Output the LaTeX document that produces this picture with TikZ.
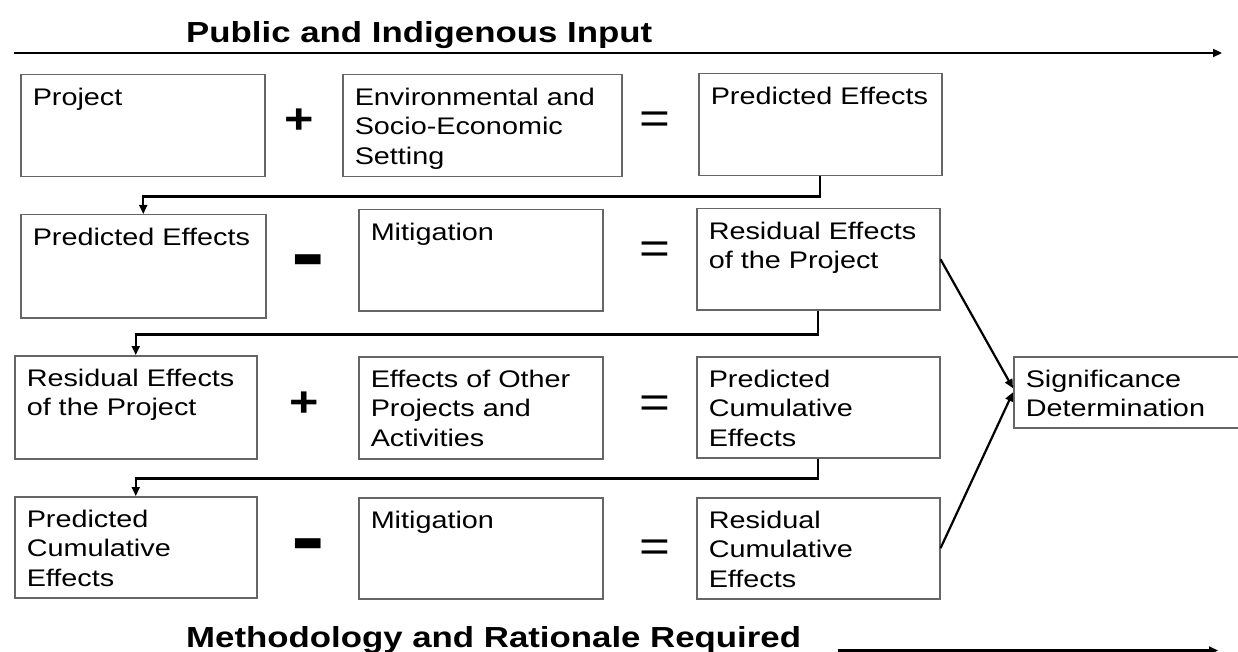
\documentclass[tikz,border=0pt]{standalone}
\usepackage{fontspec}
\setmainfont{Liberation Sans}[FakeStretch=1.2]
\usetikzlibrary{arrows.meta}
\newcommand{\bt}[3]{\parbox[c][#2][t]{\dimexpr#1-24pt\relax}{\fontsize{24}{29.5}\selectfont\raggedright\vspace*{13pt}#3}}
\tikzset{
  box/.style={draw=black!60, line width=1.5pt, inner xsep=12pt, inner ysep=0pt, anchor=north west},
  conn/.style={line width=2.2pt, -{Triangle[length=9pt,width=8pt]}},
  opplus/.style={anchor=base, inner sep=0pt, font=\bfseries\fontsize{42}{42}\selectfont},
  opeq/.style={anchor=base, inner sep=0pt, font=\fontsize{44}{44}\selectfont},
  opminus/.style={anchor=base, inner sep=0pt, font=\bfseries\fontsize{84}{84}\selectfont},
  ttl/.style={anchor=base west, inner sep=0pt, font=\bfseries\fontsize{29}{29}\selectfont}
}
\begin{document}
\begin{tikzpicture}[x=1pt,y=-1pt]
\useasboundingbox (0,0) rectangle (1238,652);
% titles and axis arrows
\node[ttl] (ttop) at (186,43) {Public and Indigenous Input};
\node[ttl] (tbot) at (186,647) {Methodology and Rationale Required};
\coordinate (tl) at (14,53);
\coordinate (tr) at (1222,53);
\draw[conn] (tl) -- (tr);
\coordinate (bl) at (838,650.5);
\coordinate (br) at (1218,650.5);
\draw[conn] (bl) -- (br);
% row 1
\node[box] (A1) at (20,74) {\bt{244pt}{102pt}{Project}};
\node[opplus] (p1) at (299,134) {+};
\node[box] (B1) at (342,74) {\bt{279pt}{102pt}{Environmental and\\Socio-Economic\\Setting}};
\node[opeq] (e1) at (655,134) {=};
\node[box] (C1) at (698,73) {\bt{243pt}{102pt}{Predicted Effects}};
% row 2
\node[box] (A2) at (20,214) {\bt{245pt}{103pt}{Predicted Effects}};
\node[opminus] (m2) at (308,281) {-};
\node[box] (B2) at (358,209) {\bt{244pt}{101pt}{Mitigation}};
\node[opeq] (e2) at (655,263) {=};
\node[box] (C2) at (696,208) {\bt{243pt}{101pt}{Residual Effects\\of the Project}};
% row 3
\node[box] (A3) at (14,355) {\bt{242pt}{103pt}{Residual Effects\\of the Project}};
\node[opplus] (p3) at (304,416) {+};
\node[box] (B3) at (358,356) {\bt{244pt}{102pt}{Effects of Other\\Projects and\\Activities}};
\node[opeq] (e3) at (655,417) {=};
\node[box] (C3) at (696,356) {\bt{243pt}{101pt}{Predicted\\Cumulative\\Effects}};
% row 4
\node[box] (A4) at (14,496) {\bt{242pt}{101pt}{Predicted\\Cumulative\\Effects}};
\node[opminus] (m4) at (308,565) {-};
\node[box] (B4) at (358,497) {\bt{244pt}{101pt}{Mitigation}};
\node[opeq] (e4) at (655,561) {=};
\node[box] (C4) at (696,497) {\bt{243pt}{101pt}{Residual\\Cumulative\\Effects}};
% significance
\node[box] (S) at (1013,356) {\bt{228pt}{71pt}{Significance\\Determination}};
% connectors
\draw[conn] (C1.south) -- ++(0,20) -| (A2.north);
\draw[conn] (C2.south) -- ++(0,24) -| (A3.north);
\draw[conn] (C3.south) -- ++(0,20) -| (A4.north);
\draw[conn] (C2.east) -- ([yshift=4pt]S.west);
\draw[conn] (C4.east) -- (S.west);
\end{tikzpicture}
\end{document}
